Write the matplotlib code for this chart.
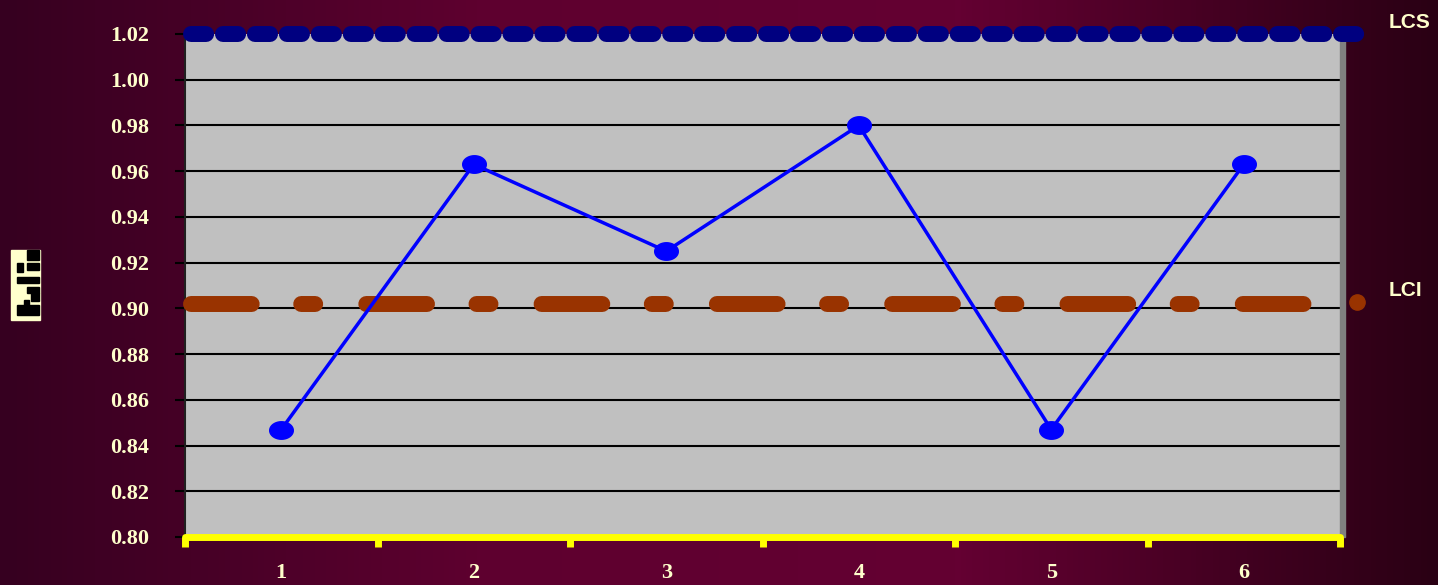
import numpy as np
import matplotlib.pyplot as plt
from matplotlib.path import Path
from matplotlib.colors import LinearSegmentedColormap
from matplotlib.patches import Rectangle

muestras = [1, 2, 3, 4, 5, 6]
valores = [0.847, 0.963, 0.925, 0.980, 0.847, 0.963]
lcs = 1.02
lci = 0.902
y_ticks = [0.80, 0.82, 0.84, 0.86, 0.88, 0.90, 0.92, 0.94, 0.96, 0.98, 1.00, 1.02]

crema = '#FFFFCC'

fig = plt.figure(figsize=(14.38, 5.85), dpi=100)

# fondo degradado
bg = fig.add_axes([0, 0, 1, 1], zorder=-10)
cmap = LinearSegmentedColormap.from_list('fondo', ['#360020', '#5e002f', '#640032', '#2a0014'])
grad = np.linspace(0, 1, 256).reshape(1, -1)
bg.imshow(grad, aspect='auto', cmap=cmap, extent=[0, 1, 0, 1])
bg.axis('off')

ax = fig.add_axes([185 / 1438, 1 - 537 / 585, (1340 - 185) / 1438, (537 - 34) / 585])
ax.set_facecolor('#C0C0C0')
ax.set_xlim(0.5, 6.5)
ax.set_ylim(0.80, 1.02)

# grilla horizontal
for y in y_ticks[1:-1]:
    ax.axhline(y, color='black', lw=1.5, zorder=1)

# borde derecho 3D
ax.add_patch(Rectangle((1.0, 0), 0.004, 1, transform=ax.transAxes, color='#808080',
                       clip_on=False, zorder=2))

# LCS
ax.plot([0.531, 6.59], [lcs, lcs], color='#000080', lw=11.5, dashes=(0.95, 1.05),
        dash_capstyle='round', clip_on=False, zorder=4)
# LCI
ax.plot([0.531, 6.33], [lci, lci], color='#993300', lw=11.5,
        dashes=(3.8, 3.1, 0.875, 3.2), dash_capstyle='round', clip_on=False, zorder=4)

# marcador elipse
t = np.linspace(0, 2 * np.pi, 60)
elipse = Path(np.column_stack([1.35 * np.cos(t), np.sin(t)]))
ax.plot(muestras, valores, color='#0000FF', lw=2.5, marker=elipse, markersize=17,
        markerfacecolor='#0000FF', markeredgecolor='#0000FF', zorder=5, clip_on=False)

# ejes
for s in ['top', 'right']:
    ax.spines[s].set_visible(False)
ax.spines['left'].set_color('#202020')
ax.spines['left'].set_linewidth(1.5)
ax.spines['bottom'].set_color('#FFFF00')
ax.spines['bottom'].set_linewidth(5)
ax.spines['bottom'].set_capstyle('round')

ax.set_yticks(y_ticks)
ax.set_yticklabels([f'{v:.2f}' for v in y_ticks], fontsize=16, fontweight='bold',
                   family='Liberation Serif', color=crema)
ax.tick_params(axis='y', length=7, width=1.5, color='black', pad=19)

ax.set_xticks(np.arange(0.5, 7.0, 1.0))
ax.set_xticks(muestras, minor=True)
ax.set_xticklabels([])
ax.set_xticklabels([str(m) for m in muestras], minor=True, fontsize=16, fontweight='bold',
                   family='Liberation Serif', color=crema)
ax.tick_params(axis='x', which='major', length=7, width=5, color='#FFFF00')
ax.tick_params(axis='x', which='minor', length=0, pad=19)

# etiquetas laterales
fig.text(1410 / 1438, 1 - 22 / 585, 'LCS', ha='center', va='center', fontsize=15,
         fontweight='bold', family='Liberation Sans', color=crema)
fig.text(1405 / 1438, 1 - 290 / 585, 'LCI', ha='center', va='center', fontsize=15,
         fontweight='bold', family='Liberation Sans', color=crema)
fig.lines.append(plt.Line2D([1357 / 1438], [1 - 302 / 585], marker='o', markersize=11,
                            color='#993300', transform=fig.transFigure))

# etiqueta del eje y (glifo ilegible en el original)
def caja(x, y, w, h, color):
    fig.patches.append(Rectangle((x / 1438, 1 - (y + h) / 585), w / 1438, h / 585,
                                 transform=fig.transFigure, color=color))

caja(11, 250, 29, 70, crema)
for bx, by, bw, bh in [(27, 250, 12, 10), (17, 263, 6, 9), (27, 263, 12, 7),
                       (17, 277, 22, 6), (27, 287, 12, 6), (31, 293, 8, 8),
                       (17, 305, 22, 10), (24, 300, 5, 5)]:
    caja(bx, by, bw, bh, 'black')

fig.savefig('out.png', dpi=100)
